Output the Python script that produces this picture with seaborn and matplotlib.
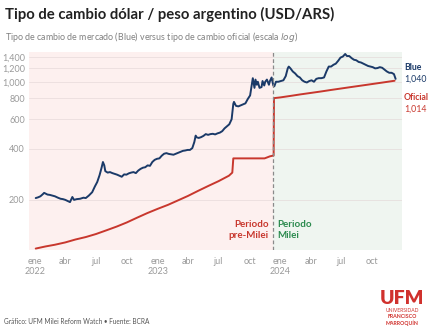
import matplotlib
matplotlib.use("Agg")
import matplotlib.pyplot as plt
import matplotlib.ticker as mticker
import seaborn as sns
import pandas as pd

# ---------------- data ----------------
blue_dates = [
    "2022-01-03", "2022-01-10", "2022-01-17", "2022-01-24", "2022-01-28", "2022-02-07", "2022-02-14",
    "2022-02-21", "2022-03-01", "2022-03-10", "2022-03-18", "2022-03-25", "2022-04-01", "2022-04-08",
    "2022-04-15", "2022-04-22", "2022-04-27", "2022-05-05", "2022-05-15", "2022-05-25", "2022-06-01",
    "2022-06-10", "2022-06-20", "2022-06-28", "2022-07-05", "2022-07-12", "2022-07-18", "2022-07-22",
    "2022-07-26", "2022-07-29", "2022-08-05", "2022-08-12", "2022-08-19", "2022-08-26", "2022-09-02",
    "2022-09-09", "2022-09-16", "2022-09-23", "2022-09-30", "2022-10-07", "2022-10-14", "2022-10-21",
    "2022-10-28", "2022-11-04", "2022-11-11", "2022-11-18", "2022-11-25", "2022-12-02", "2022-12-09",
    "2022-12-16", "2022-12-23", "2022-12-30", "2023-01-06", "2023-01-13", "2023-01-20", "2023-01-27",
    "2023-02-03", "2023-02-10", "2023-02-17", "2023-02-24", "2023-03-03", "2023-03-10", "2023-03-17",
    "2023-03-24", "2023-03-31", "2023-04-07", "2023-04-14", "2023-04-20", "2023-04-24", "2023-04-26",
    "2023-05-03", "2023-05-10", "2023-05-17", "2023-05-24", "2023-05-31", "2023-06-07", "2023-06-14",
    "2023-06-21", "2023-06-28", "2023-07-05", "2023-07-12", "2023-07-19", "2023-07-26", "2023-08-02",
    "2023-08-09", "2023-08-14", "2023-08-16", "2023-08-22", "2023-08-29", "2023-09-05", "2023-09-12",
    "2023-09-19", "2023-09-26", "2023-10-03", "2023-10-09", "2023-10-11", "2023-10-16", "2023-10-19",
    "2023-10-23", "2023-10-26", "2023-10-31", "2023-11-06", "2023-11-09", "2023-11-14", "2023-11-17",
    "2023-11-22", "2023-11-28", "2023-12-01", "2023-12-06", "2023-12-11", "2023-12-14", "2023-12-19",
    "2023-12-26", "2024-01-03", "2024-01-10", "2024-01-17", "2024-01-23", "2024-01-26", "2024-01-31",
    "2024-02-07", "2024-02-14", "2024-02-21", "2024-02-28", "2024-03-06", "2024-03-13", "2024-03-20",
    "2024-03-27", "2024-04-03", "2024-04-10", "2024-04-17", "2024-04-24", "2024-05-02", "2024-05-10",
    "2024-05-17", "2024-05-24", "2024-05-31", "2024-06-07", "2024-06-14", "2024-06-21", "2024-06-28",
    "2024-07-05", "2024-07-12", "2024-07-17", "2024-07-24", "2024-07-31", "2024-08-07", "2024-08-14",
    "2024-08-21", "2024-08-28", "2024-09-04", "2024-09-11", "2024-09-18", "2024-09-25", "2024-10-02",
    "2024-10-09", "2024-10-16", "2024-10-23", "2024-10-30", "2024-11-06", "2024-11-13", "2024-11-20",
    "2024-11-27", "2024-12-04", "2024-12-09",
]
blue_values = [
    205, 207, 210, 216, 220, 215, 214,
    212, 210, 206, 203, 202, 200, 197,
    194, 208, 200, 202, 203, 206, 205,
    212, 222, 240, 255, 280, 310, 335,
    320, 296, 290, 292, 288, 285, 282,
    278, 274, 283, 282, 287, 290, 292,
    288, 298, 305, 310, 312, 320, 318,
    335, 345, 350, 352, 365, 375, 378,
    374, 372, 370, 375, 380, 385, 390,
    392, 395, 395, 405, 440, 480, 470,
    465, 470, 478, 490, 485, 490, 492,
    488, 495, 500, 510, 530, 545, 560,
    600, 740, 760, 720, 715, 725, 735,
    745, 790, 830, 990, 1050, 920, 1030,
    960, 1000, 920, 930, 1010, 950, 1000,
    1030, 960, 1010, 1060, 950, 940, 1000,
    1000, 1010, 1020, 1080, 1200, 1230, 1200,
    1150, 1120, 1080, 1060, 1020, 1000, 990,
    1010, 1020, 1000, 1040, 1050, 1050, 1060,
    1150, 1230, 1230, 1260, 1280, 1330, 1390,
    1410, 1460, 1420, 1420, 1380, 1350, 1340,
    1310, 1300, 1280, 1260, 1240, 1230, 1220,
    1200, 1205, 1220, 1210, 1180, 1150, 1130,
    1130, 1110, 1040,
]

oficial_dates = [
    "2022-01-03", "2022-02-01", "2022-03-01", "2022-04-01", "2022-05-01", "2022-06-01", "2022-07-01",
    "2022-08-01", "2022-09-01", "2022-10-01", "2022-11-01", "2022-12-01", "2023-01-01", "2023-02-01",
    "2023-03-01", "2023-04-01", "2023-05-01", "2023-06-01", "2023-07-01", "2023-08-01", "2023-08-11",
    "2023-08-14", "2023-11-15", "2023-11-20", "2023-12-01", "2023-12-12", "2023-12-13", "2024-01-01",
    "2024-02-01", "2024-03-01", "2024-04-01", "2024-05-01", "2024-06-01", "2024-07-01", "2024-08-01",
    "2024-09-01", "2024-10-01", "2024-11-01", "2024-12-06",
]
oficial_values = [
    103, 106, 108.5, 112, 116.5, 120.5, 125.5,
    132, 139, 147, 157, 167, 177, 187,
    198, 211, 226, 242, 258, 278, 290,
    352, 352, 355, 362, 366, 800, 808,
    825, 842, 859, 876, 895, 913, 932,
    951, 970, 990, 1014,
]

y_ticks = [200, 400, 600, 800, 1000, 1200, 1400]
x_tick_dates = ["2022-01-01", "2022-04-01", "2022-07-01", "2022-10-01",
                "2023-01-01", "2023-04-01", "2023-07-01", "2023-10-01",
                "2024-01-01", "2024-04-01", "2024-07-01", "2024-10-01"]
x_tick_labels = ["ene\n2022", "abr", "jul", "oct",
                 "ene\n2023", "abr", "jul", "oct",
                 "ene\n2024", "abr", "jul", "oct"]
milei_date = "2023-12-10"

# ---------------- style ----------------
sns.set_theme(style="white")
plt.rcParams["font.family"] = ["Lato", "DejaVu Sans"]

BLUE = "#1b3a68"
RED = "#c8372d"
GREEN = "#2b8a4e"
GRAY = "#9a9a9a"
PINK_BG = "#fdf0ef"
GREEN_BG = "#eff5f0"

W, H = 428, 331
fig = plt.figure(figsize=(W / 100, H / 100), dpi=100)
fig.patch.set_facecolor("white")
ax = fig.add_axes([29 / W, 1 - 250 / H, (402 - 29) / W, (250 - 52) / H])
ax.set_facecolor("none")

blue_df = pd.DataFrame({"fecha": pd.to_datetime(blue_dates), "valor": blue_values})
ofi_df = pd.DataFrame({"fecha": pd.to_datetime(oficial_dates), "valor": oficial_values})

x0 = pd.Timestamp("2021-12-14")
x1 = pd.Timestamp("2024-12-28")
mdate = pd.Timestamp(milei_date)

ax.axvspan(x0, mdate, color=PINK_BG, zorder=0, lw=0)
ax.axvspan(mdate, x1, color=GREEN_BG, zorder=0, lw=0)

ax.set_yscale("log")
for yt in y_ticks:
    ax.axhline(yt, color="#e3d6d6", lw=0.6, zorder=0.5, alpha=0.7)

sns.lineplot(data=ofi_df, x="fecha", y="valor", ax=ax, color=RED, lw=1.4, zorder=3)
sns.lineplot(data=blue_df, x="fecha", y="valor", ax=ax, color=BLUE, lw=1.4, zorder=4)

ax.axvline(mdate, color="#8a8a8a", lw=0.9, ls=(0, (3, 2)), zorder=5)

ax.set_xlim(x0, x1)
ax.set_ylim(101, 1500)
ax.yaxis.set_major_locator(mticker.FixedLocator(y_ticks))
ax.yaxis.set_minor_locator(mticker.NullLocator())
ax.set_yticklabels([f"{v:,}" for v in y_ticks])
ax.set_xticks(pd.to_datetime(x_tick_dates))
ax.set_xticklabels(x_tick_labels)
ax.tick_params(axis="both", length=0, colors=GRAY, labelsize=6.5)
ax.tick_params(axis="y", pad=3)
ax.tick_params(axis="x", pad=5)
ax.set_xlabel("")
ax.set_ylabel("")
for s in ax.spines.values():
    s.set_visible(False)

# period labels
ax.text(pd.Timestamp("2023-11-27"), 115, "Periodo\npre-Milei", color=RED, fontsize=7,
        fontweight="bold", ha="right", va="bottom", linespacing=1.3)
ax.text(pd.Timestamp("2023-12-24"), 115, "Periodo\nMilei", color=GREEN, fontsize=7,
        fontweight="bold", ha="left", va="bottom", linespacing=1.3)

# end labels
def fx(px):
    return px / W

def fy(py):
    return 1 - py / H

fig.text(fx(404), fy(67), "Blue", color=BLUE, fontsize=6.3, fontweight="bold", va="center")
fig.text(fx(404), fy(79), f"{blue_values[-1]:,}", color=BLUE, fontsize=6.3, va="center")
fig.text(fx(404), fy(97), "Oficial", color=RED, fontsize=6.2, fontweight="bold", va="center")
fig.text(fx(404), fy(109), f"{oficial_values[-1]:,}", color=RED, fontsize=6.3, va="center")

# titles
fig.text(fx(5), fy(14), "Tipo de cambio dólar / peso argentino (USD/ARS)", fontsize=10.7,
         fontweight="bold", color="#222222", va="center")
fig.text(fx(5), fy(37), "Tipo de cambio de mercado (Blue) versus tipo de cambio oficial (escala $\\it{log}$)",
         fontsize=6.4, color="#808080", va="center")

# footer
fig.text(fx(4), fy(322), "Gráfico: UFM Milei Reform Watch • Fuente: BCRA", fontsize=4.7,
         color="#555555", va="center")
fig.text(fx(402), fy(299), "UFM", fontsize=14, fontweight="heavy", color="#d0312d",
         ha="center", va="center")
fig.text(fx(402), fy(311), "UNIVERSIDAD", fontsize=3.6, color="#d0312d", ha="center", va="center")
fig.text(fx(402), fy(317), "FRANCISCO", fontsize=3.8, fontweight="bold", color="#d0312d",
         ha="center", va="center")
fig.text(fx(402), fy(323), "MARROQUÍN", fontsize=3.8, fontweight="bold", color="#d0312d",
         ha="center", va="center")

fig.savefig("out.png", dpi=100)
